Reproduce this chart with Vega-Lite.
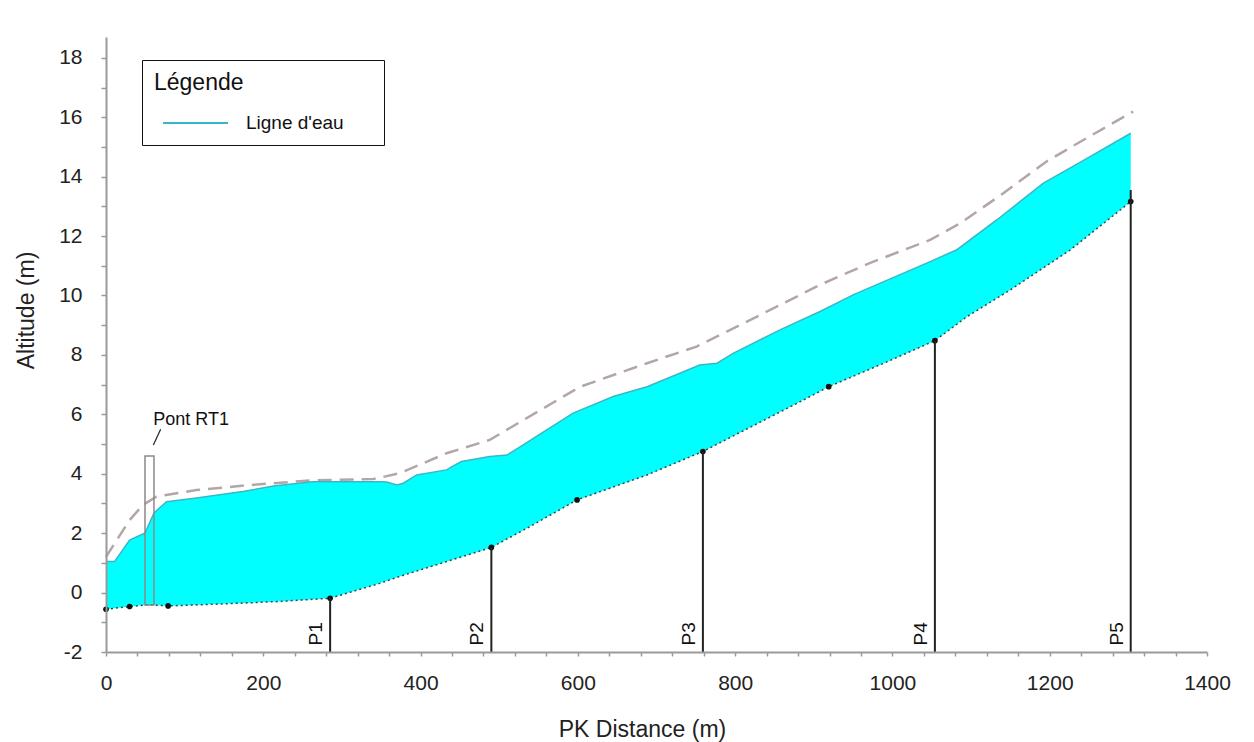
{
  "$schema": "https://vega.github.io/schema/vega-lite/v6.json",
  "width": 1101,
  "height": 615,
  "autosize": {"type": "none"},
  "padding": {"left": 106, "top": 37, "right": 47, "bottom": 90},
  "background": "white",
  "config": {"view": {"stroke": null}, "font": "Liberation Sans"},
  "datasets": {
    "eau": [
      {"pk": 0, "z": 1.05}, {"pk": 11, "z": 1.05}, {"pk": 30, "z": 1.77}, {"pk": 47, "z": 1.97},
      {"pk": 49.6, "z": 2.0}, {"pk": 61, "z": 2.68}, {"pk": 77, "z": 3.06}, {"pk": 115, "z": 3.18},
      {"pk": 174, "z": 3.4}, {"pk": 213, "z": 3.59}, {"pk": 263, "z": 3.73}, {"pk": 348, "z": 3.73},
      {"pk": 357, "z": 3.72}, {"pk": 370, "z": 3.62}, {"pk": 378, "z": 3.68}, {"pk": 395, "z": 3.96},
      {"pk": 433, "z": 4.13}, {"pk": 440, "z": 4.24}, {"pk": 452, "z": 4.41}, {"pk": 488, "z": 4.58},
      {"pk": 510, "z": 4.63}, {"pk": 527, "z": 4.91}, {"pk": 560, "z": 5.47}, {"pk": 594, "z": 6.04},
      {"pk": 645, "z": 6.6}, {"pk": 688, "z": 6.93}, {"pk": 755, "z": 7.66}, {"pk": 777, "z": 7.72},
      {"pk": 798, "z": 8.06}, {"pk": 857, "z": 8.84}, {"pk": 908, "z": 9.46}, {"pk": 950, "z": 10.02},
      {"pk": 1048, "z": 11.14}, {"pk": 1082, "z": 11.54}, {"pk": 1133, "z": 12.55}, {"pk": 1192, "z": 13.78},
      {"pk": 1248, "z": 14.62}, {"pk": 1303, "z": 15.46}
    ],
    "berge": [
      {"pk": 0, "z": 1.2}, {"pk": 30, "z": 2.44}, {"pk": 47, "z": 2.95}, {"pk": 64, "z": 3.23},
      {"pk": 115, "z": 3.45}, {"pk": 183, "z": 3.62}, {"pk": 263, "z": 3.78}, {"pk": 340, "z": 3.82},
      {"pk": 374, "z": 4.02}, {"pk": 433, "z": 4.69}, {"pk": 488, "z": 5.14}, {"pk": 527, "z": 5.75},
      {"pk": 603, "z": 6.93}, {"pk": 688, "z": 7.72}, {"pk": 751, "z": 8.28}, {"pk": 815, "z": 9.12},
      {"pk": 908, "z": 10.36}, {"pk": 971, "z": 11.09}, {"pk": 1048, "z": 11.87}, {"pk": 1086, "z": 12.43},
      {"pk": 1141, "z": 13.44}, {"pk": 1196, "z": 14.51}, {"pk": 1247, "z": 15.3}, {"pk": 1306, "z": 16.19}
    ],
    "fond": [
      {"pk": 0, "z": -0.56, "point": true}, {"pk": 30, "z": -0.47, "point": true},
      {"pk": 49.6, "z": -0.42, "point": false}, {"pk": 61, "z": -0.42, "point": false},
      {"pk": 79, "z": -0.45, "point": true}, {"pk": 150, "z": -0.38, "point": false},
      {"pk": 220, "z": -0.3, "point": false}, {"pk": 285, "z": -0.19, "point": true},
      {"pk": 348, "z": 0.31, "point": false}, {"pk": 373, "z": 0.54, "point": false},
      {"pk": 490, "z": 1.52, "point": true}, {"pk": 539, "z": 2.22, "point": false},
      {"pk": 599, "z": 3.12, "point": true}, {"pk": 688, "z": 3.96, "point": false},
      {"pk": 759, "z": 4.75, "point": true}, {"pk": 883, "z": 6.43, "point": false},
      {"pk": 919, "z": 6.93, "point": true}, {"pk": 989, "z": 7.72, "point": false},
      {"pk": 1054, "z": 8.48, "point": true}, {"pk": 1095, "z": 9.29, "point": false},
      {"pk": 1150, "z": 10.19, "point": false}, {"pk": 1226, "z": 11.53, "point": false},
      {"pk": 1303, "z": 13.16, "point": true}
    ],
    "profils": [
      {"nom": "P1", "pk": 285, "z": -0.19},
      {"nom": "P2", "pk": 490, "z": 1.52},
      {"nom": "P3", "pk": 759, "z": 4.75},
      {"nom": "P4", "pk": 1054, "z": 8.48},
      {"nom": "P5", "pk": 1303, "z": 13.55}
    ],
    "pont": [
      {"nom": "Pont RT1", "pk1": 49.6, "pk2": 61, "z_bas": -0.42, "z_haut": 4.6,
       "pk_a": 60.2, "z_a": 4.97, "pk_b": 69.5, "z_b": 5.5, "pk_texte": 60, "z_texte": 5.64}
    ]
  },
  "layer": [
    {
      "data": {"name": "eau"},
      "mark": {"type": "area", "color": "#00ffff", "opacity": 1},
      "encoding": {
        "x": {
          "field": "pk", "type": "quantitative", "title": "PK Distance (m)",
          "scale": {"domain": [0, 1400], "nice": false, "zero": false},
          "axis": {
            "values": [0,40,80,120,160,200,240,280,320,360,400,440,480,520,560,600,640,680,720,760,800,840,880,920,960,1000,1040,1080,1120,1160,1200,1240,1280,1320,1360,1400],
            "tickCount": 200,
            "labelExpr": "datum.value % 200 === 0 ? '' + datum.value : ''",
            "grid": false, "zindex": 1,
            "domainColor": "#9a9a9a", "domainWidth": 2,
            "tickColor": "#9a9a9a", "tickSize": 4, "tickWidth": 1.5,
            "labelFont": "Liberation Sans", "labelFontSize": 21, "labelColor": "#222",
            "labelPadding": 16, "labelFlush": false, "labelOverlap": false,
            "titleFont": "Liberation Sans", "titleFontSize": 23, "titleFontWeight": "normal",
            "titleColor": "#222", "titleX": 536, "titleY": 84, "titleBaseline": "alphabetic"
          }
        },
        "y": {
          "field": "z", "type": "quantitative", "title": "Altitude (m)",
          "scale": {"domain": [-2, 18.7], "nice": false, "zero": false},
          "axis": {
            "values": [-2,-1,0,1,2,3,4,5,6,7,8,9,10,11,12,13,14,15,16,17,18],
            "tickCount": 200,
            "labelExpr": "datum.value % 2 === 0 ? '' + datum.value : ''",
            "grid": false, "zindex": 1,
            "domainColor": "#9a9a9a", "domainWidth": 2,
            "tickColor": "#9a9a9a", "tickSize": 5, "tickWidth": 1.5,
            "labelFont": "Liberation Sans", "labelFontSize": 21, "labelColor": "#222",
            "labelPadding": 19, "labelOverlap": false, "labelFlush": false,
            "titleFont": "Liberation Sans", "titleFontSize": 23, "titleFontWeight": "normal",
            "titleColor": "#222", "titleX": -73, "titleY": 273, "titleBaseline": "alphabetic"
          }
        },
        "y2": {"datum": -2}
      }
    },
    {
      "data": {"name": "fond"},
      "mark": {"type": "area", "color": "white", "opacity": 1},
      "encoding": {
        "x": {"field": "pk", "type": "quantitative", "title": "PK Distance (m)"},
        "y": {"field": "z", "type": "quantitative", "title": "Altitude (m)"},
        "y2": {"datum": -2}
      }
    },
    {
      "data": {"name": "berge"},
      "mark": {"type": "line", "color": "#b4a6a6", "strokeWidth": 2.5, "strokeDash": [14, 8]},
      "encoding": {
        "x": {"field": "pk", "type": "quantitative", "title": "PK Distance (m)"},
        "y": {"field": "z", "type": "quantitative", "title": "Altitude (m)"}
      }
    },
    {
      "data": {"name": "eau"},
      "mark": {"type": "line", "strokeWidth": 1.5},
      "encoding": {
        "x": {"field": "pk", "type": "quantitative", "title": "PK Distance (m)"},
        "y": {"field": "z", "type": "quantitative", "title": "Altitude (m)"},
        "color": {
          "datum": "Ligne d'eau", "type": "nominal",
          "scale": {"range": ["#3ab7c6"]},
          "legend": {
            "title": "Légende", "orient": "none", "legendX": 36, "legendY": 23,
            "padding": 12, "strokeColor": "#111", "fillColor": "white",
            "titleFont": "Liberation Sans", "titleFontSize": 23, "titleFontWeight": "normal",
            "titleColor": "#111", "titlePadding": 18,
            "symbolType": "stroke", "symbolSize": 4225, "symbolStrokeWidth": 2, "symbolOffset": 8,
            "clipHeight": 20,
            "labelFont": "Liberation Sans", "labelFontSize": 19, "labelColor": "#111", "labelOffset": 17,
            "labelExpr": "datum.label + '\u2800\u2800'"
          }
        }
      }
    },
    {
      "data": {"name": "fond"},
      "mark": {"type": "line", "color": "#2c4a50", "strokeWidth": 1.5, "strokeDash": [2, 3]},
      "encoding": {
        "x": {"field": "pk", "type": "quantitative", "title": "PK Distance (m)"},
        "y": {"field": "z", "type": "quantitative", "title": "Altitude (m)"}
      }
    },
    {
      "data": {"name": "fond"},
      "transform": [{"filter": "datum.point"}],
      "mark": {"type": "point", "filled": true, "color": "#111", "size": 32, "opacity": 1},
      "encoding": {
        "x": {"field": "pk", "type": "quantitative", "title": "PK Distance (m)"},
        "y": {"field": "z", "type": "quantitative", "title": "Altitude (m)"}
      }
    },
    {
      "data": {"name": "pont"},
      "mark": {"type": "rect", "fillOpacity": 0, "stroke": "#8a8a8a", "strokeWidth": 1.5},
      "encoding": {
        "x": {"field": "pk1", "type": "quantitative", "title": "PK Distance (m)"},
        "x2": {"field": "pk2"},
        "y": {"field": "z_haut", "type": "quantitative", "title": "Altitude (m)"},
        "y2": {"field": "z_bas"}
      }
    },
    {
      "data": {"name": "pont"},
      "mark": {"type": "rule", "color": "#222", "strokeWidth": 1.2},
      "encoding": {
        "x": {"field": "pk_a", "type": "quantitative", "title": "PK Distance (m)"},
        "x2": {"field": "pk_b"},
        "y": {"field": "z_a", "type": "quantitative", "title": "Altitude (m)"},
        "y2": {"field": "z_b"}
      }
    },
    {
      "data": {"name": "pont"},
      "mark": {"type": "text", "align": "left", "baseline": "alphabetic", "fontSize": 18, "color": "#111", "font": "Liberation Sans"},
      "encoding": {
        "x": {"field": "pk_texte", "type": "quantitative", "title": "PK Distance (m)"},
        "y": {"field": "z_texte", "type": "quantitative", "title": "Altitude (m)"},
        "text": {"field": "nom"}
      }
    },
    {
      "data": {"name": "profils"},
      "mark": {"type": "rule", "color": "#222", "strokeWidth": 2},
      "encoding": {
        "x": {"field": "pk", "type": "quantitative", "title": "PK Distance (m)"},
        "y": {"field": "z", "type": "quantitative", "title": "Altitude (m)"},
        "y2": {"datum": -2}
      }
    },
    {
      "data": {"name": "profils"},
      "mark": {"type": "text", "angle": 270, "align": "center", "baseline": "alphabetic", "dy": -8, "fontSize": 19, "color": "#111", "font": "Liberation Sans"},
      "encoding": {
        "x": {"field": "pk", "type": "quantitative", "title": "PK Distance (m)"},
        "y": {"datum": -1.39, "type": "quantitative", "title": "Altitude (m)"},
        "text": {"field": "nom"}
      }
    }
  ]
}
